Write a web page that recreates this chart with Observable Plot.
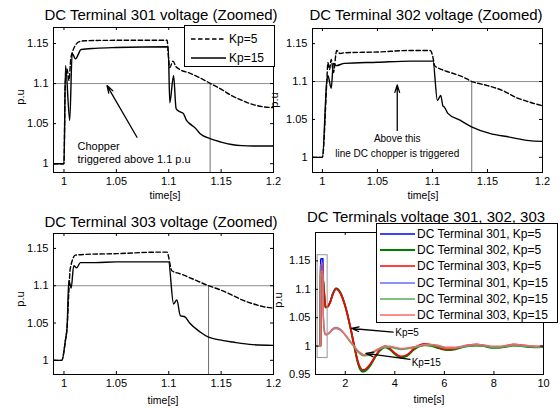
<!DOCTYPE html>
<html><head><meta charset="utf-8">
<script src="https://cdn.jsdelivr.net/npm/d3@7"></script>
<script src="https://cdn.jsdelivr.net/npm/@observablehq/plot@0.6"></script>
<style>
body{margin:0;background:#fff;}
#chart{position:relative;width:560px;height:408px;font-family:"Liberation Sans",Arial,Helvetica,sans-serif;color:#000;overflow:hidden;background:#fff;}
.pan{position:absolute;}
.lbl{position:absolute;white-space:nowrap;transform:translate(-50%,-50%);line-height:1;}
.rot{transform:translate(-50%,-50%) rotate(-90deg);}
.legend{position:absolute;background:#fff;border:1px solid #000;box-sizing:border-box;}
.row{position:absolute;left:0;height:0;}
.row svg{position:absolute;top:-5px;}
.row span{position:absolute;white-space:nowrap;transform:translateY(-50%);line-height:1;}
</style></head><body><div id="chart"></div>
<script>
// ---------------- DATA ----------------
const titles = ["DC Terminal 301 voltage (Zoomed)", "DC Terminal 302 voltage (Zoomed)",
                "DC Terminal 303 voltage (Zoomed)", "DC Terminals voltage 301, 302, 303"];
const yLabel = "p.u";
const xLabel = "time[s]";

const zoomXTicks = [1, 1.05, 1.1, 1.15, 1.2];
const zoomYTicks = [1, 1.05, 1.1, 1.15];
const fullXTicks = [2, 4, 6, 8, 10];
const fullYTicks = [0.95, 1, 1.05, 1.1, 1.15];

// Terminal 301
const t301_kp5  = [0.99, 1.0, 1.0012, 1.003, 1.0048, 1.0065, 1.0085, 1.011, 1.014, 1.02, 1.05, 1.0985, 1.0995, 1.101, 1.104, 1.107, 1.11, 1.12, 1.13, 1.14, 1.15, 1.16, 1.17, 1.18, 1.19, 1.2];
const v301_kp5  = [1.0, 1.0, 1.1, 1.118, 1.104, 1.131, 1.141, 1.148, 1.152, 1.1535, 1.154, 1.154, 1.136, 1.12, 1.128, 1.121, 1.118, 1.113, 1.107, 1.1, 1.093, 1.085, 1.079, 1.074, 1.071, 1.07];
const t301_kp15 = [0.99, 1.0, 1.0015, 1.0055, 1.0078, 1.011, 1.0164, 1.03, 1.05, 1.0995, 1.101, 1.1046, 1.107, 1.109, 1.112, 1.114, 1.117, 1.12, 1.125, 1.13, 1.14, 1.15, 1.16, 1.17, 1.18, 1.2];
const v301_kp15 = [1.0, 1.0, 1.1225, 1.054, 1.1375, 1.131, 1.1425, 1.144, 1.145, 1.146, 1.076, 1.11, 1.069, 1.066, 1.064, 1.0625, 1.054, 1.05, 1.045, 1.0375, 1.031, 1.027, 1.024, 1.0225, 1.022, 1.022];
// Terminal 302
const t302_kp5  = [0.991, 1.0, 1.004, 1.005, 1.0065, 1.008, 1.01, 1.013, 1.016, 1.02, 1.05, 1.08, 1.098, 1.1, 1.102, 1.105, 1.108, 1.116, 1.127, 1.136, 1.15, 1.164, 1.176, 1.188, 1.2];
const v302_kp5  = [1.0, 1.0, 1.1, 1.125, 1.116, 1.129, 1.112, 1.141, 1.137, 1.138, 1.139, 1.141, 1.141, 1.135, 1.121, 1.118, 1.116, 1.112, 1.1065, 1.1, 1.0947, 1.088, 1.079, 1.073, 1.068];
const t302_kp15 = [0.991, 1.0, 1.004, 1.005, 1.008, 1.01, 1.0125, 1.02, 1.05, 1.08, 1.1005, 1.1045, 1.1075, 1.1095, 1.111, 1.114, 1.125, 1.136, 1.152, 1.17, 1.188, 1.2];
const v302_kp15 = [1.0, 1.0, 1.101, 1.108, 1.091, 1.124, 1.121, 1.124, 1.1255, 1.127, 1.127, 1.075, 1.0816, 1.068, 1.066, 1.058, 1.049, 1.04, 1.0316, 1.0267, 1.022, 1.021];
// Terminal 303
const t303_kp5  = [0.99, 0.998, 1.0014, 1.003, 1.0046, 1.006, 1.011, 1.02, 1.05, 1.09, 1.0983, 1.103, 1.111, 1.123, 1.138, 1.15, 1.161, 1.17, 1.18, 1.19, 1.2];
const v303_kp5  = [1.0, 1.0, 1.027, 1.045, 1.09, 1.123, 1.141, 1.142, 1.143, 1.145, 1.145, 1.12, 1.116, 1.109, 1.1, 1.094, 1.087, 1.081, 1.076, 1.072, 1.07];
const t303_kp15 = [0.99, 0.998, 1.0014, 1.003, 1.0046, 1.0069, 1.0093, 1.012, 1.0157, 1.03, 1.05, 1.0998, 1.1046, 1.1078, 1.111, 1.1157, 1.12, 1.13, 1.138, 1.15, 1.161, 1.18, 1.2];
const v303_kp15 = [1.0, 1.0, 1.027, 1.045, 1.107, 1.097, 1.127, 1.124, 1.131, 1.131, 1.132, 1.132, 1.0756, 1.081, 1.06, 1.058, 1.05, 1.038, 1.031, 1.027, 1.0245, 1.021, 1.02];

// Full-length run (after t = 1.2 s)
const tStart = [0.8];
const vStart = [1.0];
const tTail = [1.25,1.3,1.4,1.5,1.63,1.8,2.0,2.2,2.37,2.5,2.6,2.7,2.8,3.0,3.2,3.4,3.6,3.8,4.0,4.25,4.5,4.75,5.0,5.2,5.5,5.8,6.1,6.4,6.7,7.0,7.3,7.6,7.9,8.2,8.5,8.8,9.1,9.4,9.7,10];
const tail301_kp5  = [1.069,1.07,1.079,1.093,1.102,1.095,1.071,1.035,0.999,0.973,0.961,0.957,0.958,0.967,0.981,0.993,0.999,0.995,0.987,0.981,0.984,0.994,1.001,1.003,1.001,0.996,0.994,0.995,0.998,1.001,1.002,1.0,0.998,0.998,1.0,1.002,1.001,0.999,0.999,0.999];
const tail302_kp5  = [1.069,1.07,1.078,1.092,1.101,1.094,1.07,1.034,0.998,0.972,0.959,0.955,0.956,0.965,0.98,0.992,0.998,0.994,0.986,0.98,0.983,0.993,1.0,1.002,1.0,0.996,0.993,0.994,0.998,1.0,1.001,1.0,0.997,0.997,0.999,1.001,1.0,0.999,0.998,0.999];
const tail303_kp5  = [1.068,1.069,1.078,1.091,1.1,1.093,1.07,1.035,1.0,0.975,0.963,0.958,0.959,0.968,0.982,0.994,1.0,0.996,0.988,0.982,0.985,0.995,1.002,1.004,1.002,0.997,0.994,0.995,0.999,1.002,1.003,1.001,0.998,0.998,1.001,1.003,1.002,1.0,0.999,1.0];
const tail301_kp15 = [1.021,1.022,1.026,1.031,1.033,1.03,1.02,1.008,0.999,0.991,0.987,0.984,0.984,0.986,0.991,0.996,0.999,0.999,0.997,0.995,0.996,0.998,1.0,1.002,1.002,1.0,0.997,0.997,0.999,1.001,1.002,1.001,0.999,0.999,1.0,1.002,1.001,1.0,0.999,1.0];
const tail302_kp15 = [1.02,1.021,1.024,1.029,1.031,1.028,1.019,1.007,0.998,0.99,0.986,0.983,0.983,0.985,0.99,0.995,0.998,0.998,0.996,0.994,0.995,0.997,0.999,1.001,1.001,0.999,0.996,0.996,0.998,1.0,1.001,1.0,0.998,0.998,0.999,1.001,1.0,0.999,0.998,0.999];
const tail303_kp15 = [1.02,1.021,1.025,1.03,1.032,1.029,1.02,1.009,1.0,0.993,0.989,0.986,0.985,0.987,0.992,0.997,1.0,1.0,0.998,0.996,0.997,0.999,1.001,1.003,1.003,1.001,0.998,0.998,1.0,1.002,1.003,1.002,1.0,1.0,1.001,1.003,1.002,1.001,1.0,1.0];

const legendZoom = ["Kp=5", "Kp=15"];
const legendFull = ["DC Terminal 301, Kp=5", "DC Terminal 302, Kp=5", "DC Terminal 303, Kp=5",
                    "DC Terminal 301, Kp=15", "DC Terminal 302, Kp=15", "DC Terminal 303, Kp=15"];

// threshold / marker lines
const threshold = 1.1;
const crossT = [1.1395, 1.1357, 1.138];
// annotations
const ann1 = {text: "Chopper\ntriggered above 1.1 p.u", t: 1.0129, v: 1.0142, t1: 1.0697, v1: 1.033, t2: 1.0411, v2: 1.0975};
const ann2 = {text: "Above this\nline DC chopper is triggered", t: 1.068, v: 1.0163, t1: 1.068, v1: 1.0355, t2: 1.068, v2: 1.0955};
const ann4 = [
  {text: "Kp=5",  t: 4.02, v: 1.0245, t1: 3.93, v1: 1.0245, t2: 2.25, v2: 1.031},
  {text: "Kp=15", t: 4.68, v: 0.9715, t1: 4.61, v1: 0.9765, t2: 2.83, v2: 0.9872}
];
const zoomBox = [{x1: 0.885, x2: 1.29, y1: 0.979, y2: 1.16}];

// ---------------- STYLE ----------------
const FONT = '"Liberation Sans", Arial, Helvetica, sans-serif';
const C5 = ["#0000ff", "#008000", "#ff0000"];
const C15 = ["#6a6aff", "#58aa58", "#ff6464"];
const W5 = [1.5, 2.0, 1.6];
const DASH = "4.5,2.5";

const pts = (ts, vs) => ts.map((t, i) => ({t, v: vs[i]}));
const chart = document.getElementById("chart");

function makePanel(o) {
  const innerW = o.width - o.ml - o.mr, innerH = o.height - o.mt - o.mb;
  const svg = Plot.plot({
    width: o.width, height: o.height,
    marginTop: o.mt, marginRight: o.mr, marginBottom: o.mb, marginLeft: o.ml,
    style: {background: "transparent", fontFamily: FONT, fontSize: "11px", color: "#000", maxWidth: "none", overflow: "visible"},
    x: {domain: o.xDomain},
    y: {domain: o.yDomain},
    marks: [
      ...o.marks,
      Plot.axisX({ticks: o.xTicks, tickSize: 0, tickPadding: 5, label: null, tickFormat: d => String(d), fontSize: 11}),
      Plot.axisY({ticks: o.yTicks, tickSize: 0, tickPadding: 5, label: null, tickFormat: d => String(d), fontSize: 11}),
      Plot.tickX(o.xTicks, {x: d => d, insetTop: innerH - 3, stroke: "#000"}),
      Plot.tickX(o.xTicks, {x: d => d, insetBottom: innerH - 3, stroke: "#000"}),
      Plot.tickY(o.yTicks, {y: d => d, insetRight: innerW - 3, stroke: "#000"}),
      Plot.tickY(o.yTicks, {y: d => d, insetLeft: innerW - 3, stroke: "#000"}),
      Plot.frame({stroke: "#000", strokeWidth: 1})
    ]
  });
  const div = document.createElement("div");
  div.className = "pan";
  div.style.left = o.left + "px"; div.style.top = o.top + "px";
  div.style.width = o.width + "px"; div.style.height = o.height + "px";
  div.appendChild(svg);
  chart.appendChild(div);
}

function zoomMarks(k5, k15, yDom, cross, extra) {
  return [
    Plot.ruleY([threshold], {stroke: "#8c8c8c", strokeWidth: 1}),
    Plot.ruleX([cross], {y1: yDom[0], y2: threshold, stroke: "#707070", strokeWidth: 1}),
    Plot.line(k5, {x: "t", y: "v", stroke: "#000", strokeWidth: 1.4, strokeDasharray: DASH, curve: "monotone-x", clip: true}),
    Plot.line(k15, {x: "t", y: "v", stroke: "#000", strokeWidth: 1.4, curve: "monotone-x", clip: true}),
    ...extra
  ];
}

function annMarks(a, size, anchor, lh) {
  return [
    Plot.arrow([a], {x1: "t1", y1: "v1", x2: "t2", y2: "v2", stroke: "#000", strokeWidth: 1.3, headLength: 9, headAngle: 35}),
    Plot.text([a], {x: "t", y: "v", text: "text", textAnchor: anchor, fontSize: size, lineHeight: lh, fill: "#000", fontFamily: FONT})
  ];
}

function label(text, x, y, size, rot) {
  const d = document.createElement("div");
  d.className = "lbl" + (rot ? " rot" : "");
  d.style.left = x + "px"; d.style.top = y + "px"; d.style.fontSize = size + "px";
  d.textContent = text;
  chart.appendChild(d);
}

function legend(left, top, w, h, rows) {
  const box = document.createElement("div");
  box.className = "legend";
  box.style.left = left + "px"; box.style.top = top + "px";
  box.style.width = w + "px"; box.style.height = h + "px";
  rows.forEach(r => {
    const row = document.createElement("div");
    row.className = "row";
    row.style.top = r.y + "px";
    row.innerHTML = `<svg width="${r.lx2 + 2}" height="10" style="left:0"><line x1="${r.lx1}" x2="${r.lx2}" y1="5" y2="5" stroke="${r.color}" stroke-width="${r.w}" ${r.dash ? `stroke-dasharray="${r.dash}"` : ""}/></svg><span style="left:${r.tx}px;font-size:${r.size}px">${r.text}</span>`;
    box.appendChild(row);
  });
  chart.appendChild(box);
}

// ---------------- TITLES (behind) ----------------
label(titles[0], 161, 13.5, 15);
label(titles[1], 426, 13.5, 15);
label(titles[2], 161, 220.5, 15);
label(titles[3], 426, 216, 15);

// ---------------- PANELS ----------------
const yd1 = [0.989, 1.17], yd2 = [0.98, 1.17], yd3 = [0.981, 1.17], yd4 = [0.95, 1.2];

makePanel({left: 0, top: 0, width: 280, height: 200, mt: 27, mr: 7, mb: 28, ml: 53,
  xDomain: [0.99, 1.2], yDomain: yd1, xTicks: zoomXTicks, yTicks: zoomYTicks,
  marks: zoomMarks(pts(t301_kp5, v301_kp5), pts(t301_kp15, v301_kp15), yd1, crossT[0], annMarks(ann1, 11, "start", 1.18))});

makePanel({left: 264, top: 0, width: 296, height: 200, mt: 28, mr: 18, mb: 28, ml: 48,
  xDomain: [0.991, 1.2], yDomain: yd2, xTicks: zoomXTicks, yTicks: zoomYTicks,
  marks: zoomMarks(pts(t302_kp5, v302_kp5), pts(t302_kp15, v302_kp15), yd2, crossT[1], annMarks(ann2, 10, "middle", 1.5))});

makePanel({left: 0, top: 200, width: 280, height: 208, mt: 33, mr: 7, mb: 34, ml: 53,
  xDomain: [0.99, 1.2], yDomain: yd3, xTicks: zoomXTicks, yTicks: zoomYTicks,
  marks: zoomMarks(pts(t303_kp5, v303_kp5), pts(t303_kp15, v303_kp15), yd3, crossT[2], [])});

const full = (ts, vs, tail) => [...pts(tStart, vStart), ...pts(ts, vs), ...pts(tTail, tail)];
const full5 = [full(t301_kp5, v301_kp5, tail301_kp5), full(t302_kp5, v302_kp5, tail302_kp5), full(t303_kp5, v303_kp5, tail303_kp5)];
const full15 = [full(t301_kp15, v301_kp15, tail301_kp15), full(t302_kp15, v302_kp15, tail302_kp15), full(t303_kp15, v303_kp15, tail303_kp15)];

makePanel({left: 264, top: 200, width: 296, height: 208, mt: 32, mr: 17, mb: 34, ml: 51,
  xDomain: [0.8, 10], yDomain: yd4, xTicks: fullXTicks, yTicks: fullYTicks,
  marks: [
    ...full5.map((d, i) => Plot.line(d, {x: "t", y: "v", stroke: C5[i], strokeWidth: W5[i], curve: "monotone-x", clip: true})),
    ...full15.map((d, i) => Plot.line(d, {x: "t", y: "v", stroke: C15[i], strokeWidth: 1.3, curve: "monotone-x", clip: true})),
    Plot.rect(zoomBox, {x1: "x1", x2: "x2", y1: "y1", y2: "y2", fill: "none", stroke: "#999", strokeWidth: 1}),
    ...ann4.flatMap(a => annMarks(a, 10, "start", 1.2))
  ]});

// ---------------- AXIS LABELS ----------------
label(xLabel, 165, 195, 10.5);
label(xLabel, 423, 195, 10.5);
label(xLabel, 163, 400, 10.5);
label(xLabel, 429, 399, 10.5);
label(yLabel, 20, 97, 11, true);
label(yLabel, 274, 100, 11, true);
label(yLabel, 20, 299, 11, true);
label(yLabel, 278, 300, 11, true);

// ---------------- LEGENDS ----------------
legend(184, 25, 91, 42, [
  {y: 13, lx1: 6, lx2: 41, tx: 44, color: "#000", w: 1.4, dash: DASH, text: legendZoom[0], size: 12},
  {y: 32, lx1: 6, lx2: 41, tx: 44, color: "#000", w: 1.4, dash: null, text: legendZoom[1], size: 12}
]);
legend(376, 223, 182, 100, legendFull.map((t, i) => ({
  y: 10 + i * 16.2, lx1: 3, lx2: 38, tx: 40,
  color: i < 3 ? C5[i] : C15[i - 3], w: i < 3 ? W5[i] : 1.3, dash: null, text: t, size: 12
})));
</script>
</body></html>
